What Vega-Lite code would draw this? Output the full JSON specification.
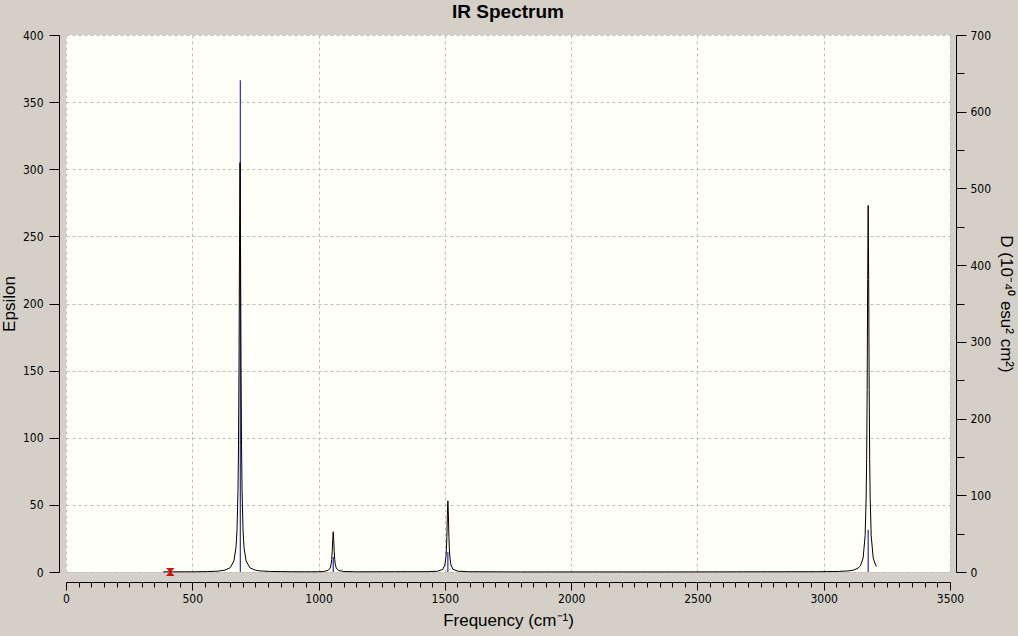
{
  "$schema": "https://vega.github.io/schema/vega-lite/v6.json",
  "autosize": "none",
  "padding": {"left": 66, "top": 35, "right": 68, "bottom": 64},
  "width": 884,
  "height": 537,
  "background": "#D4D0C8",
  "title": {"text": "IR Spectrum", "font": "Liberation Sans", "fontSize": 19, "fontWeight": "bold", "color": "black", "anchor": "middle", "offset": 7},
  "config": {
    "view": {"fill": "#FFFFF7", "stroke": null},
    "axis": {"domainColor": "black", "tickColor": "black", "labelColor": "black", "titleColor": "black", "labelFont": "Liberation Sans Narrow, DejaVu Sans Condensed, sans-serif", "labelFontSize": 12, "titleFont": "Liberation Sans", "titleFontSize": 17, "titleFontWeight": "normal", "labelFlush": false, "labelOverlap": false, "gridColor": "#BDBDBD", "gridDash": [3, 3], "gridWidth": 1}
  },
  "datasets": {
    "spectrum": [
      {"freq": 385, "eps": 0.1}, {"freq": 420, "eps": 0.12}, {"freq": 500, "eps": 0.15}, {"freq": 560, "eps": 0.3},
      {"freq": 600, "eps": 0.6}, {"freq": 630, "eps": 1.4}, {"freq": 650, "eps": 3.2}, {"freq": 665, "eps": 8.3},
      {"freq": 673, "eps": 18.3}, {"freq": 677, "eps": 30.5}, {"freq": 681, "eps": 61}, {"freq": 683, "eps": 94},
      {"freq": 685, "eps": 152}, {"freq": 687, "eps": 244}, {"freq": 689, "eps": 305}, {"freq": 691, "eps": 244},
      {"freq": 693, "eps": 152}, {"freq": 695, "eps": 94}, {"freq": 697, "eps": 61}, {"freq": 701, "eps": 30.5},
      {"freq": 705, "eps": 18}, {"freq": 713, "eps": 8.2}, {"freq": 729, "eps": 3.0}, {"freq": 749, "eps": 1.4},
      {"freq": 769, "eps": 0.8}, {"freq": 809, "eps": 0.4}, {"freq": 889, "eps": 0.2}, {"freq": 950, "eps": 0.15},
      {"freq": 1000, "eps": 0.2}, {"freq": 1018, "eps": 0.3}, {"freq": 1038, "eps": 1.2}, {"freq": 1046, "eps": 3.0},
      {"freq": 1050, "eps": 6}, {"freq": 1052, "eps": 9.2}, {"freq": 1054, "eps": 15}, {"freq": 1056, "eps": 24},
      {"freq": 1058, "eps": 30}, {"freq": 1060, "eps": 24}, {"freq": 1062, "eps": 15}, {"freq": 1064, "eps": 9.2},
      {"freq": 1066, "eps": 6}, {"freq": 1070, "eps": 3}, {"freq": 1078, "eps": 1.2}, {"freq": 1098, "eps": 0.35},
      {"freq": 1150, "eps": 0.15}, {"freq": 1300, "eps": 0.2}, {"freq": 1432, "eps": 0.25}, {"freq": 1472, "eps": 0.6},
      {"freq": 1492, "eps": 2.0}, {"freq": 1500, "eps": 5.3}, {"freq": 1504, "eps": 10.6}, {"freq": 1506, "eps": 16.3},
      {"freq": 1508, "eps": 26.5}, {"freq": 1510, "eps": 42.4}, {"freq": 1512, "eps": 53}, {"freq": 1514, "eps": 42.4},
      {"freq": 1516, "eps": 26.5}, {"freq": 1518, "eps": 16.3}, {"freq": 1520, "eps": 10.6}, {"freq": 1524, "eps": 5.3},
      {"freq": 1532, "eps": 2.0}, {"freq": 1552, "eps": 0.6}, {"freq": 1592, "eps": 0.2}, {"freq": 1800, "eps": 0.05},
      {"freq": 2400, "eps": 0.05}, {"freq": 2976, "eps": 0.2}, {"freq": 3056, "eps": 0.4}, {"freq": 3096, "eps": 0.8},
      {"freq": 3116, "eps": 1.3}, {"freq": 3136, "eps": 2.8}, {"freq": 3146, "eps": 4.9}, {"freq": 3156, "eps": 10.4},
      {"freq": 3164, "eps": 27}, {"freq": 3168, "eps": 55}, {"freq": 3170, "eps": 84}, {"freq": 3172, "eps": 136},
      {"freq": 3174, "eps": 218}, {"freq": 3176, "eps": 273}, {"freq": 3178, "eps": 218}, {"freq": 3180, "eps": 136},
      {"freq": 3182, "eps": 84}, {"freq": 3184, "eps": 55}, {"freq": 3188, "eps": 27}, {"freq": 3196, "eps": 10.4},
      {"freq": 3206, "eps": 4.8}, {"freq": 3210, "eps": 4.5}
    ],
    "sticks": [
      {"freq": 690, "D": 641},
      {"freq": 1058, "D": 19.5},
      {"freq": 1512, "D": 26},
      {"freq": 3176, "D": 55}
    ],
    "marker": [
      {"freq": 413, "eps": 0}
    ]
  },
  "layer": [
    {
      "data": {"name": "sticks"},
      "mark": {"type": "rule", "color": "#000099", "strokeWidth": 1},
      "encoding": {
        "x": {"field": "freq", "type": "quantitative", "scale": {"domain": [0, 3500], "nice": false},
          "axis": {"orient": "bottom", "offset": 10, "values": [50,100,150,200,250,300,350,400,450,550,600,650,700,750,800,850,900,950,1050,1100,1150,1200,1250,1300,1350,1400,1450,1550,1600,1650,1700,1750,1800,1850,1900,1950,2050,2100,2150,2200,2250,2300,2350,2400,2450,2550,2600,2650,2700,2750,2800,2850,2900,2950,3050,3100,3150,3200,3250,3300,3350,3400,3450],
            "tickSize": 5, "labels": false, "domain": false, "grid": false, "title": null}},
        "y": {"field": "D", "type": "quantitative", "scale": {"domain": [0, 700], "nice": false},
          "axis": {"orient": "right", "offset": 6, "values": [0,100,200,300,400,500,600,700], "tickSize": 10, "labelPadding": 4, "grid": false, "title": "D (10⁻⁴⁰ esu² cm²)", "titlePadding": 6}},
        "y2": {"datum": 0}
      }
    },
    {
      "data": {"name": "sticks"},
      "mark": {"type": "rule", "opacity": 0},
      "encoding": {
        "x": {"field": "freq", "type": "quantitative", "scale": {"domain": [0, 3500], "nice": false}, "axis": null},
        "y": {"field": "D", "type": "quantitative", "scale": {"domain": [0, 700], "nice": false},
          "axis": {"orient": "right", "offset": 6, "values": [50,150,250,350,450,550,650], "tickSize": 8, "labels": false, "domain": false, "grid": false, "title": null}},
        "y2": {"datum": 0}
      }
    },
    {
      "data": {"name": "spectrum"},
      "mark": {"type": "line", "color": "black", "strokeWidth": 1, "interpolate": "linear"},
      "encoding": {
        "x": {"field": "freq", "type": "quantitative", "scale": {"domain": [0, 3500], "nice": false},
          "axis": {"orient": "bottom", "offset": 10, "values": [0,500,1000,1500,2000,2500,3000,3500], "tickSize": 8, "labelPadding": 3, "grid": true, "title": "Frequency (cm⁻¹)", "titlePadding": 8, "format": "d"}},
        "y": {"field": "eps", "type": "quantitative", "scale": {"domain": [0, 400], "nice": false},
          "axis": {"orient": "left", "offset": 7, "values": [0,50,100,150,200,250,300,350,400], "tickSize": 10, "labelPadding": 6, "grid": true, "title": "Epsilon", "titlePadding": 4}}
      }
    },
    {
      "data": {"name": "marker"},
      "mark": {"type": "point", "shape": "M -1 -1 L 1 -1 L -1 1 L 1 1 Z", "size": 49, "filled": true, "color": "#FF0000", "stroke": "#B00000", "strokeWidth": 0.8, "opacity": 1},
      "encoding": {
        "x": {"field": "freq", "type": "quantitative", "scale": {"domain": [0, 3500], "nice": false}, "axis": null},
        "y": {"field": "eps", "type": "quantitative", "scale": {"domain": [0, 400], "nice": false}, "axis": null}
      }
    }
  ],
  "resolve": {"scale": {"x": "independent", "y": "independent"}}
}
